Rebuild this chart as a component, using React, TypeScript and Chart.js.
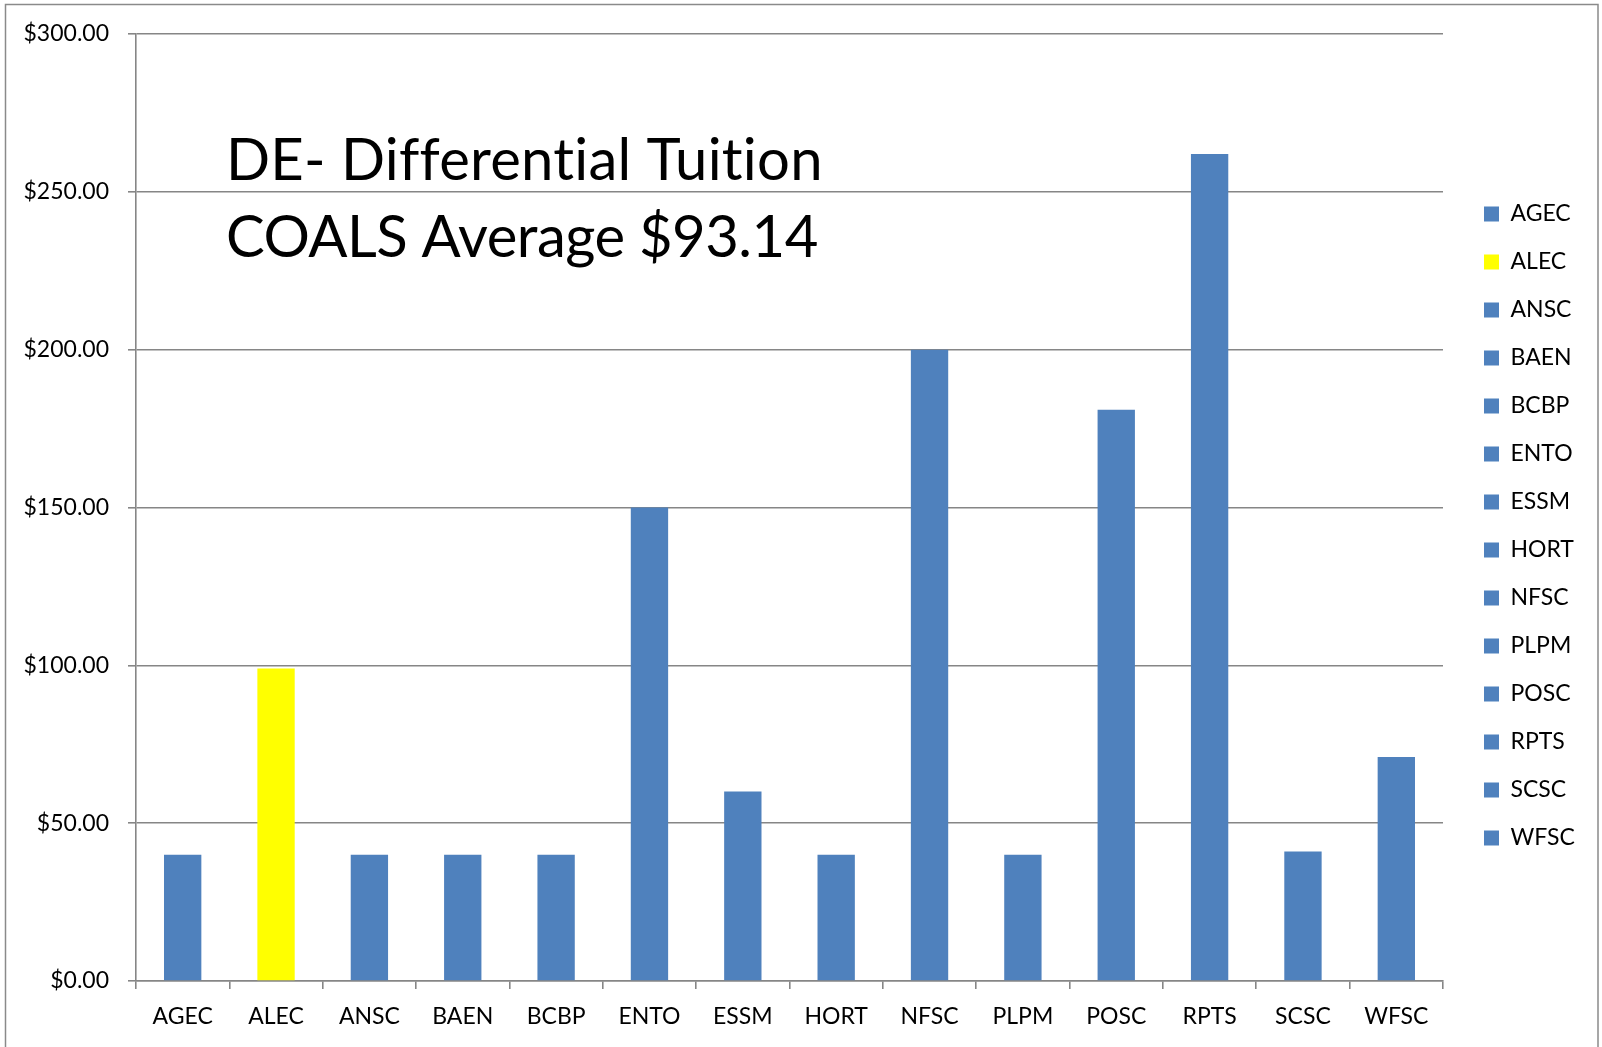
import React, { useEffect, useRef } from "react";
import { Chart, registerables } from "chart.js";

Chart.register(...registerables);

const CATEGORIES = ["AGEC", "ALEC", "ANSC", "BAEN", "BCBP", "ENTO", "ESSM", "HORT", "NFSC", "PLPM", "POSC", "RPTS", "SCSC", "WFSC"];
const VALUES = [40, 99, 40, 40, 40, 150, 60, 40, 200, 40, 181, 262, 41, 71];
const HIGHLIGHTED = ["ALEC"];
const Y_MIN = 0;
const Y_MAX = 300;
const Y_STEP = 50;
const TITLE_LINES = ["DE- Differential Tuition", "COALS Average $93.14"];

const BLUE = "#4F81BD";
const YELLOW = "#FFFF00";
const GRID = "#868686";
const FONT = "Lato";
const LABEL_SIZE = 23;
const LEGEND_PAD = 25;
const LEGEND_BOX = 15;

const W = 1602;
const H = 1047;
const PLOT_RIGHT = 1443;
const RIGHT_GAP = 16;

const colorFor = (c: string) => (HIGHLIGHTED.includes(c) ? YELLOW : BLUE);

export default function App() {
  const ref = useRef<HTMLCanvasElement | null>(null);

  useEffect(() => {
    document.body.style.margin = "0";
    document.body.style.overflow = "hidden";
    const canvas = ref.current;
    if (!canvas) return;

    // natural legend width -> right padding so the plot ends at PLOT_RIGHT
    const mctx = document.createElement("canvas").getContext("2d")!;
    mctx.font = `${LABEL_SIZE}px ${FONT}`;
    const maxText = Math.max(...CATEGORIES.map((c) => mctx.measureText(c).width));
    const legendW = LEGEND_PAD + LEGEND_BOX + LABEL_SIZE / 2 + maxText + 10;
    const padRight = Math.max(0, W - PLOT_RIGHT - RIGHT_GAP - legendW);

    const framePlugin = {
      id: "frame",
      beforeDraw(chart: any) {
        const ctx = chart.ctx;
        ctx.save();
        ctx.fillStyle = "#ffffff";
        ctx.fillRect(0, 0, W, H);
        ctx.strokeStyle = "#8a8a8a";
        ctx.lineWidth = 1.5;
        ctx.strokeRect(5.5, 4.5, 1592.5, H + 20);
        ctx.restore();
      },
      afterDraw(chart: any) {
        const ctx = chart.ctx;
        ctx.save();
        ctx.fillStyle = "#000000";
        ctx.font = `58px ${FONT}`;
        ctx.textBaseline = "alphabetic";
        ctx.textAlign = "left";
        try {
          (ctx as any).letterSpacing = "0.25px";
        } catch (e) {}
        ctx.fillText(TITLE_LINES[0], 226, 180);
        try {
          (ctx as any).letterSpacing = "-0.5px";
        } catch (e) {}
        ctx.fillText(TITLE_LINES[1], 226, 257);
        ctx.restore();
      },
    };

    const chart = new Chart(canvas, {
      type: "bar",
      data: {
        labels: CATEGORIES,
        datasets: [
          {
            label: "Differential Tuition",
            data: VALUES,
            xAxisID: "x",
            yAxisID: "y",
            backgroundColor: CATEGORIES.map(colorFor),
            borderWidth: 0,
            barPercentage: 0.4,
            categoryPercentage: 1,
          },
        ],
      },
      options: {
        responsive: false,
        animation: false,
        font: { family: FONT },
        layout: { padding: { top: 21, bottom: 16, left: 10, right: padRight } },
        plugins: {
          tooltip: { enabled: false },
          title: { display: false },
          legend: {
            display: true,
            position: "right",
            labels: {
              font: { family: FONT, size: LABEL_SIZE },
              color: "#000000",
              boxWidth: LEGEND_BOX,
              boxHeight: LEGEND_BOX,
              padding: LEGEND_PAD,
              generateLabels: () =>
                CATEGORIES.map((c, i) => ({
                  text: c,
                  fillStyle: colorFor(c),
                  strokeStyle: colorFor(c),
                  lineWidth: 0,
                  hidden: false,
                  index: i,
                  datasetIndex: 0,
                })),
            },
          },
        },
        scales: {
          x: {
            type: "category",
            position: "bottom",
            grid: {
              display: true,
              offset: true,
              drawOnChartArea: false,
              drawTicks: true,
              tickLength: 8,
              color: GRID,
              lineWidth: 1.6,
            },
            border: { display: true, color: GRID, width: 1.6 },
            ticks: {
              font: { family: FONT, size: LABEL_SIZE },
              color: "#000000",
              padding: 14,
              maxRotation: 0,
              autoSkip: false,
            },
            afterFit: (s: any) => {
              s.height = 50;
            },
          },
          y: {
            type: "linear",
            position: "left",
            min: Y_MIN,
            max: Y_MAX,
            grid: {
              display: true,
              drawOnChartArea: true,
              drawTicks: true,
              tickLength: 8,
              color: GRID,
              lineWidth: 1.6,
            },
            border: { display: true, color: GRID, width: 1.6 },
            ticks: {
              stepSize: Y_STEP,
              font: { family: FONT, size: LABEL_SIZE },
              color: "#000000",
              padding: 19,
              callback: (v: any) => "$" + Number(v).toFixed(2),
            },
            afterFit: (s: any) => {
              s.width = 126;
            },
          },
          spacerTop: {
            type: "linear",
            position: "top",
            display: true,
            grid: { display: false, drawTicks: false },
            border: { display: false },
            ticks: { display: false },
            afterFit: (s: any) => {
              s.height = 13;
            },
          },
          spacerRight: {
            type: "linear",
            position: "right",
            display: true,
            grid: { display: false, drawTicks: false },
            border: { display: false },
            ticks: { display: false },
            afterFit: (s: any) => {
              s.width = RIGHT_GAP;
            },
          },
        },
      },
      plugins: [framePlugin],
    } as any);

    return () => {
      chart.destroy();
    };
  }, []);

  return (
    <div style={{ position: "fixed", left: 0, top: 0, width: W, height: H, background: "#fff" }}>
      <canvas ref={ref} width={W} height={H} style={{ width: W, height: H, display: "block" }} />
    </div>
  );
}
